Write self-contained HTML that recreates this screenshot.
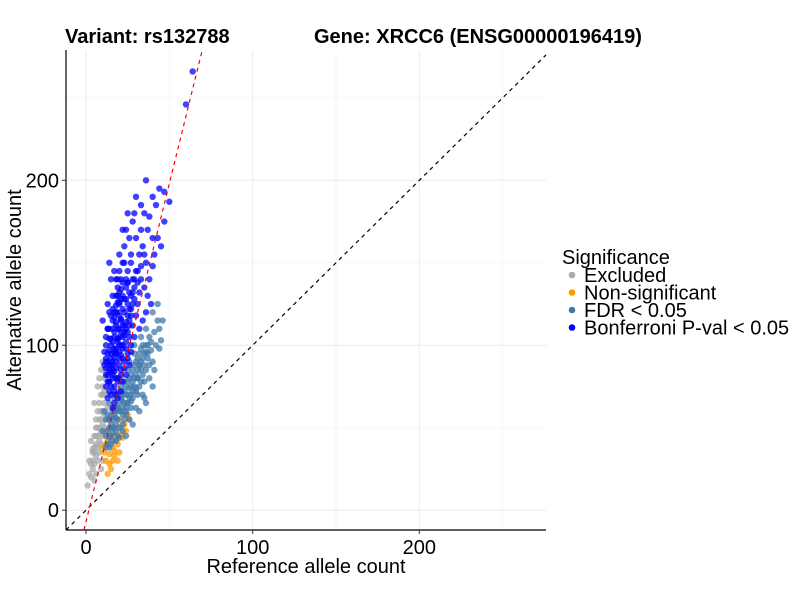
<!DOCTYPE html>
<html><head><meta charset="utf-8"><style>
body{margin:0;background:#fff;}
svg{display:block;font-family:"Liberation Sans",Arial,sans-serif;}
</style></head><body>
<svg id="chart" width="800" height="600">
  <rect width="800" height="600" fill="#fff"/>
  <g id="grid"></g>
  <g id="refs"></g>
  <g id="points"></g>
  <g id="axes"></g>
  <text x="65" y="43" font-size="20" font-weight="bold">Variant: rs132788</text>
  <text x="314" y="43" font-size="20" font-weight="bold">Gene: XRCC6 (ENSG00000196419)</text>
  <text x="306" y="573" font-size="20" text-anchor="middle">Reference allele count</text>
  <text transform="translate(21,290) rotate(-90)" font-size="20" text-anchor="middle">Alternative allele count</text>
  <g id="legend">
    <text x="562" y="264" font-size="20">Significance</text>
  </g>
</svg>
<script>
const xTicks=[0,100,200];
const yTicks=[0,100,200];
const minorTicks=[50,150,250];
const seriesNames=["Excluded","Non-significant","FDR < 0.05","Bonferroni P-val < 0.05"];
const seriesColors=["#aaaaaa","#ff9900","#4179ab","#0000ff"];
const excludedRef=[3,4,5,6,7,5,6,7,8,9,10,8,9,10,11,6,7,8,9,10,11,12,4,5,3,2,8,9,7,12,11,10,6,9,12,13,10,5,7,8,1,2,4,6,3,9,11,5,9,10,11,8,7,6,10,11,9,5,4];
const excludedAlt=[20,25,28,22,30,35,40,45,50,55,60,65,70,75,80,55,60,35,40,45,50,55,30,45,28,22,80,85,75,70,65,30,33,25,48,62,90,18,38,42,15,30,37,50,42,60,72,65,60,70,85,55,50,45,52,58,47,38,35];
const nonsigRef=[12,14,16,18,20,13,15,17,19,22,24,11,14,16,18,21,12,10,20,23,25,15,13,17,19,21,26];
const nonsigAlt=[30,34,38,42,35,42,45,33,40,44,48,35,28,30,45,50,40,38,55,52,58,25,22,36,30,46,55];
const fdrRef=[12,14,16,18,20,22,24,26,28,30,32,34,13,15,17,19,21,23,25,27,29,31,33,35,37,14,18,22,26,30,34,38,40,42,44,46,40,43,36,38,32,36,20,24,28,16,14,12,11,10,13,17,21,25,29,33,37,39,41,35,31,27,23,19,15,12,24,28,32,36,40,20,22,26,30,18,16,34,44,45,14,17,20,23,26,29,32,35,38,22,25,28,31,19,21,24,27,30,33,14,16,18,20,22,24,26,28,30,32,34,36,15,17,19,21,23,25,27,29,31,33,13,15,17,19,21,25,27,29,31,33,35,37,39,41,43,18,20,22,16,14,24,36];
const fdrAlt=[45,50,55,60,65,70,75,80,85,90,95,100,40,45,50,55,60,65,70,75,80,85,90,95,100,38,42,48,55,62,70,80,90,100,110,115,120,125,110,105,75,85,50,58,68,60,65,55,60,48,58,68,75,85,95,105,92,97,85,78,70,62,55,45,40,38,45,52,60,65,75,80,62,68,72,52,47,82,98,103,55,60,72,78,90,100,88,68,88,58,65,72,80,62,68,60,66,74,78,44,50,56,60,66,70,74,78,82,88,92,96,52,58,62,68,72,78,82,88,92,98,48,57,62,70,78,65,70,75,80,85,88,95,102,108,115,48,44,52,42,55,62,100];
const bonfRef=[15,17,19,21,23,14,16,18,20,22,24,26,13,15,17,19,21,23,25,27,12,14,16,18,20,22,24,28,30,16,19,21,25,27,32,34,30,36,14,18,22,29,31,33,26,28,30,32,24,20,18,25,27,29,16,13,22,19,17,21,11,12,10,13,15,20,23,26,28,35,38,40,44,42,47,50,45,40,37,33,31,35,37,39,36,34,38,40,25,22,14,30,36,60,64,47,24,26,20,18,22,28,32,17,15,19,21,23,25,27,29,31,33,35,41,43,12,14,16,13,18,24,26,16,18,20,22,24,15,17,19,21,23,14,16,18,20,22,17,19,21,25,12,13,12,13,14,15,16,17,18,19,20,13,14,15,16,17,18,19,14,15,16,17,18,19,20,21,22,23,20,21,22,23,24,25,26,27,28,29,26,24,22,20,18,16,14,12,11,13,15,17,19,21,23,25,27,15,17,18,12,20,23,27,17,24,33,29,19,21,25];
const bonfAlt=[70,75,80,85,90,85,90,95,100,105,110,115,95,100,105,110,115,120,125,130,105,110,115,120,125,130,135,140,145,130,135,140,145,150,155,160,165,150,120,140,150,135,125,140,105,112,118,110,98,92,86,95,100,105,80,78,78,68,65,72,88,100,115,125,140,155,160,165,175,180,178,190,195,185,175,187,160,165,170,170,145,135,130,125,120,115,140,148,180,170,150,190,200,246,266,193,128,122,118,112,98,125,132,98,92,102,108,112,118,122,128,138,148,155,155,165,82,72,62,68,70,82,88,85,95,105,112,102,88,96,104,100,108,78,82,90,96,92,120,126,134,138,90,110,75,82,88,95,102,108,114,120,126,90,97,104,110,117,124,130,78,84,88,93,98,104,110,116,122,128,88,94,100,106,114,108,112,118,132,140,132,140,138,132,130,122,104,92,96,110,118,84,78,82,86,92,96,75,72,80,86,145,150,155,145,170,185,180,140,128,138];
const refs=[excludedRef,nonsigRef,fdrRef,bonfRef];
const alts=[excludedAlt,nonsigAlt,fdrAlt,bonfAlt];
const xMin=-12,xMax=276,yMin=-12,yMax=279;
const L=66,R=546,T=50,B=530;
const xs=v=>L+(v-xMin)/(xMax-xMin)*(R-L);
const ys=v=>B-(v-yMin)/(yMax-yMin)*(B-T);
const NS="http://www.w3.org/2000/svg";
function mk(tag,attrs,parent){const e=document.createElementNS(NS,tag);for(const k in attrs)e.setAttribute(k,attrs[k]);parent.appendChild(e);return e;}
const grid=document.getElementById('grid');
minorTicks.forEach(t=>{
  let l=mk('line',{x1:xs(t),x2:xs(t),y1:T,y2:B,stroke:'#f0f0f0','stroke-width':0.6},grid);
  
  
  l=mk('line',{x1:L,x2:R,y1:ys(t),y2:ys(t),stroke:'#f0f0f0','stroke-width':0.6},grid);
  
  
});
xTicks.forEach(t=>{
  const l=mk('line',{x1:xs(t),x2:xs(t),y1:T,y2:B,stroke:'#ebebeb','stroke-width':1},grid);
  
  
});
yTicks.forEach(t=>{
  const l=mk('line',{x1:L,x2:R,y1:ys(t),y2:ys(t),stroke:'#ebebeb','stroke-width':1},grid);
  
  
});
const rg=document.getElementById('refs');
let d=mk('line',{x1:xs(xMin),y1:ys(xMin),x2:xs(xMax),y2:ys(xMax),stroke:'#000','stroke-width':1.2,'stroke-dasharray':'4,4'},rg);


const slope=4.1,icpt=-7;
const rx0=(yMin-icpt)/slope,rx1=(yMax-icpt)/slope;
const pg=document.getElementById('points');
refs.forEach((rs,s)=>{
  rs.forEach((r,i)=>{
    const c=mk('circle',{cx:xs(r),cy:ys(alts[s][i]),r:3.2,fill:seriesColors[s],'fill-opacity':0.75},pg);
    
    
  });
});
d=mk('line',{x1:xs(rx0),y1:ys(yMin),x2:xs(rx1),y2:ys(yMax),stroke:'#ff0000','stroke-width':1.2,'stroke-dasharray':'4,4'},rg);


document.getElementById('chart').appendChild(rg);
const ax=document.getElementById('axes');
mk('line',{x1:L,x2:L,y1:T,y2:B,stroke:'#000','stroke-width':1.2},ax);
mk('line',{x1:L,x2:R,y1:B,y2:B,stroke:'#000','stroke-width':1.2},ax);
xTicks.forEach(t=>{
  mk('line',{x1:xs(t),x2:xs(t),y1:B,y2:B+4,stroke:'#333'},ax);
  const tx=mk('text',{x:xs(t),y:B+24,'font-size':20,'text-anchor':'middle',fill:'#000'},ax);
  tx.textContent=t;
  
  
});
yTicks.forEach(t=>{
  mk('line',{x1:L-4,x2:L,y1:ys(t),y2:ys(t),stroke:'#333'},ax);
  const tx=mk('text',{x:L-7,y:ys(t)+7,'font-size':20,'text-anchor':'end',fill:'#000'},ax);
  tx.textContent=t;
  
  
});
const lg=document.getElementById('legend');
seriesNames.forEach((n,i)=>{
  const y=275+i*17.5;
  const c=mk('circle',{cx:572,cy:y,r:3.3,fill:seriesColors[i]},lg);
  
  
  const t=mk('text',{x:584,y:y+7,'font-size':20},lg);
  t.textContent=n;
  
  
});
</script>
</body></html>
